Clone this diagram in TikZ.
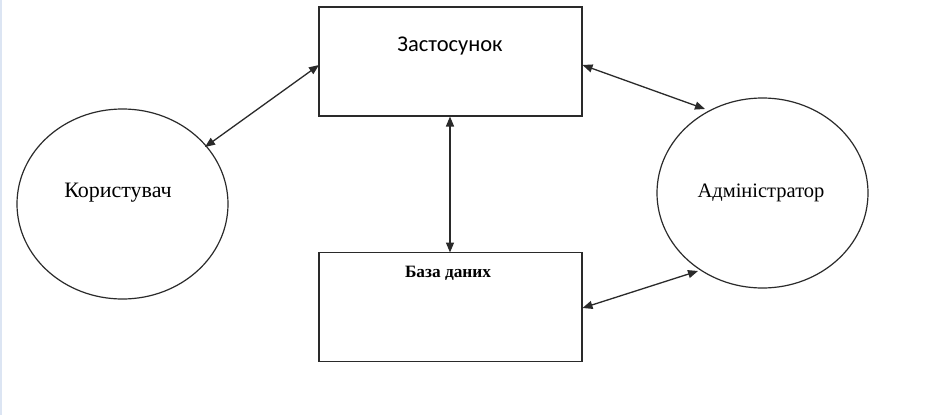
\documentclass[tikz,border=0pt]{standalone}
\usepackage{fontspec}
\setmainfont{Liberation Serif}
\newfontfamily\calfont{Carlito}
\usetikzlibrary{arrows.meta,shapes.geometric}
\definecolor{edgeblue}{HTML}{DCE5F3}
\definecolor{linegray}{HTML}{2A2A2A}
\tikzset{
  x=1pt, y=-1pt,
  conn/.style={draw=linegray, line width=1.3pt, {Triangle[length=10pt,width=8pt]}-{Triangle[length=10pt,width=8pt]}},
  boxnode/.style={draw=linegray, line width=1.2pt, minimum width=263pt, minimum height=109pt, inner sep=0pt},
  actor/.style={draw=linegray, line width=1.2pt, ellipse, minimum width=211pt, minimum height=190pt, inner sep=0pt},
  lbl/.style={font=\fontsize{20.5}{24}\selectfont, inner sep=0pt}
}
\begin{document}
\begin{tikzpicture}
\useasboundingbox (0,0) rectangle (935,415);
\fill[white] (0,0) rectangle (935,415);
\draw[edgeblue, line width=1.5pt] (0.75,0) -- (0.75,415);
\node[boxnode] (app) at (450.5,61.5) {};
\node[boxnode] (db) at (450.5,307) {};
\node[actor] (user) at (122.5,204) {};
\node[actor] (admin) at (762.5,193) {};
\node[inner sep=0pt, font=\calfont\fontsize{22.5}{26}\selectfont] (appt) at (450,46) {Застосунок};
\node[inner sep=0pt, font=\bfseries\fontsize{17.3}{21}\selectfont] (dbt) at (448,273) {База даних};
\node[inner sep=0pt, font=\fontsize{22}{26}\selectfont] (usert) at (118,193) {Користувач};
\node[lbl] (admint) at (761,193) {Адміністратор};
\coordinate (a1) at (205,147);
\coordinate (a2) at (319,65);
\coordinate (b1) at (450,116.5);
\coordinate (b2) at (450,252.5);
\coordinate (c1) at (582.5,65);
\coordinate (c2) at (705,109);
\coordinate (d1) at (582.5,308);
\coordinate (d2) at (698,271);
\draw[conn] (a1) -- (a2);
\draw[conn] (b1) -- (b2);
\draw[conn] (c1) -- (c2);
\draw[conn] (d1) -- (d2);
\end{tikzpicture}
\end{document}
